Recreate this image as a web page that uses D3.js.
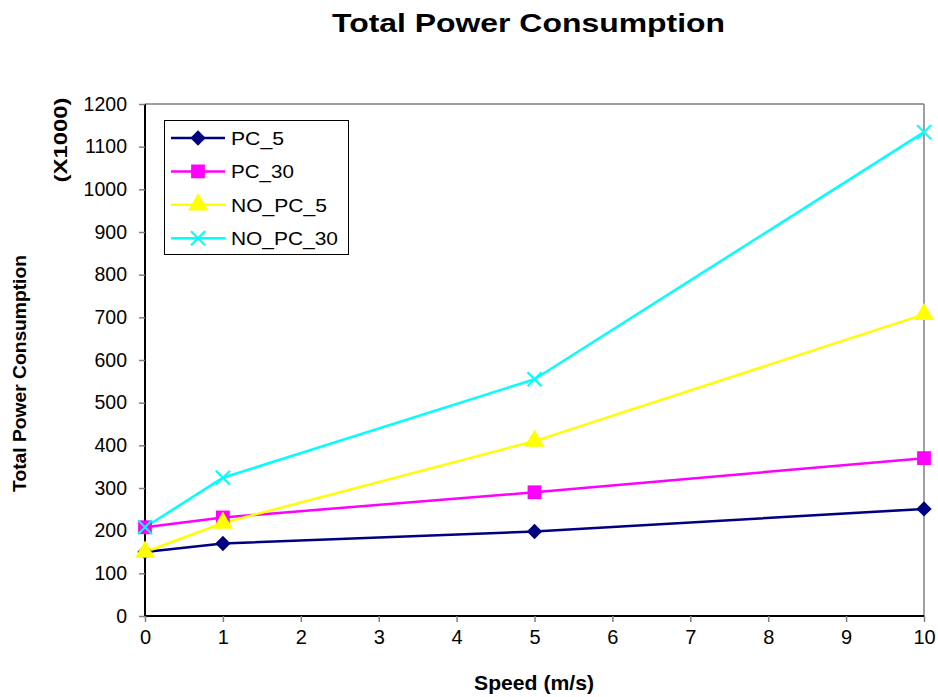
<!DOCTYPE html>
<html><head><meta charset="utf-8">
<script src="https://cdn.jsdelivr.net/npm/d3@7"></script>
<style>body{margin:0;background:#fff;font-family:"Liberation Sans",Arial,sans-serif;}</style>
</head><body><svg id="c" width="938" height="697"></svg>
<script>
const speeds = [0, 1, 5, 10];
const pc5 = [150, 170, 198, 251];
const pc30 = [208, 231, 290, 370];
const noPc5 = [150, 218, 410, 707];
const noPc30 = [208, 324, 555, 1134];
const seriesNames = ["PC_5", "PC_30", "NO_PC_5", "NO_PC_30"];
const seriesColors = ["#000080", "#ff00ff", "#ffff00", "#00ffff"];
const seriesSymbols = ["diamond", "square", "triangle", "cross"];
const xTicks = [0,1,2,3,4,5,6,7,8,9,10];
const yTicks = [0,100,200,300,400,500,600,700,800,900,1000,1100,1200];

const series = [pc5, pc30, noPc5, noPc30].map((v,i)=>({name:seriesNames[i], color:seriesColors[i], sym:seriesSymbols[i], values:v}));
const legendWidths = [53, 63, 96, 107];

const svg = d3.select("#c");
const FF = "Liberation Sans, Arial, sans-serif";
const L=145, R=924, T=104, B=616;
const x = d3.scaleLinear().domain([0,10]).range([L,R]);
const y = d3.scaleLinear().domain([0,1200]).range([B,T]);

// place text (in a group) stretched along its direction to a target length
function stretchedText(parent, tx, ty, rot, str, size, bold, target, anchor){
  const g = parent.append("g").attr("transform",`translate(${tx},${ty}) rotate(${rot})`);
  const t = g.append("text").attr("font-family",FF).attr("font-size",size+"px").attr("fill","#000")
    .attr("font-weight", bold ? "bold" : "normal").attr("text-anchor", anchor).text(str);
  const w = t.node().getComputedTextLength();
  t.attr("transform",`scale(${target/w},1)`);
  return t;
}

// plot frame (gray top/right)
svg.append("line").attr("x1",L).attr("x2",R).attr("y1",T).attr("y2",T).attr("stroke","#808080").attr("stroke-width",1.5);
svg.append("line").attr("x1",R).attr("x2",R).attr("y1",T).attr("y2",B).attr("stroke","#808080").attr("stroke-width",1.5);

const xa = svg.append("g").attr("transform",`translate(0,${B})`)
  .call(d3.axisBottom(x).tickValues(xTicks).tickSize(6).tickPadding(8).tickFormat(d3.format("d")));
const ya = svg.append("g").attr("transform",`translate(${L},0)`)
  .call(d3.axisLeft(y).tickValues(yTicks).tickSize(6).tickPadding(12).tickFormat(d3.format("d")));
xa.selectAll("text").attr("font-family",FF).attr("font-size","20px").attr("fill","#000");
ya.selectAll("text").attr("font-family",FF).attr("font-size","19.5px").attr("fill","#000");
[xa,ya].forEach(a=>{
  a.selectAll(".tick line").attr("stroke","#808080").attr("stroke-width",1.5);
  a.select(".domain").attr("stroke","#000").attr("stroke-width",2).attr("d", a===xa ? `M${L},0H${R}` : `M0,${B}V${T}`);
});

function symPath(sym){
  if(sym==="diamond") return d3.symbol().type(d3.symbolDiamond2).size(150)();
  if(sym==="square") return d3.symbol().type(d3.symbolSquare).size(190)();
  if(sym==="triangle") return d3.symbol().type(d3.symbolTriangle).size(170)();
  return d3.symbol().type(d3.symbolTimes).size(130)();
}
function drawSym(g, s, cx, cy){
  const p = g.append("path").attr("d", symPath(s.sym)).attr("transform",`translate(${cx},${cy})`);
  if(s.sym==="cross") p.attr("fill","none").attr("stroke",s.color).attr("stroke-width",2);
  else p.attr("fill",s.color).attr("stroke","none");
}
const line = d3.line().x((d,i)=>x(speeds[i])).y(d=>y(d));
series.forEach(s=>{
  svg.append("path").datum(s.values).attr("d",line).attr("fill","none").attr("stroke",s.color).attr("stroke-width",2.5);
});
series.forEach(s=>{
  const g = svg.append("g");
  s.values.forEach((v,i)=>drawSym(g, s, x(speeds[i]), y(v)));
});

// legend
const lg = svg.append("g");
lg.append("rect").attr("x",164.5).attr("y",120.5).attr("width",184).attr("height",134).attr("fill","#fff").attr("stroke","#000").attr("stroke-width",1);
series.forEach((s,i)=>{
  const cy = 138 + i*33.4;
  lg.append("line").attr("x1",171).attr("x2",225).attr("y1",cy).attr("y2",cy).attr("stroke",s.color).attr("stroke-width",2.5);
  drawSym(lg, s, 198, cy);
  stretchedText(lg, 231, cy+7, 0, s.name, 18.5, false, legendWidths[i], "start");
});

// titles
stretchedText(svg, 528.5, 32, 0, "Total Power Consumption", 26.5, true, 393, "middle");
stretchedText(svg, 534, 690, 0, "Speed (m/s)", 20, true, 120, "middle");
stretchedText(svg, 26, 373.5, -90, "Total Power Consumption", 19, true, 237, "middle");
stretchedText(svg, 67, 140, -90, "(X1000)", 19, true, 85, "middle");
</script></body></html>
